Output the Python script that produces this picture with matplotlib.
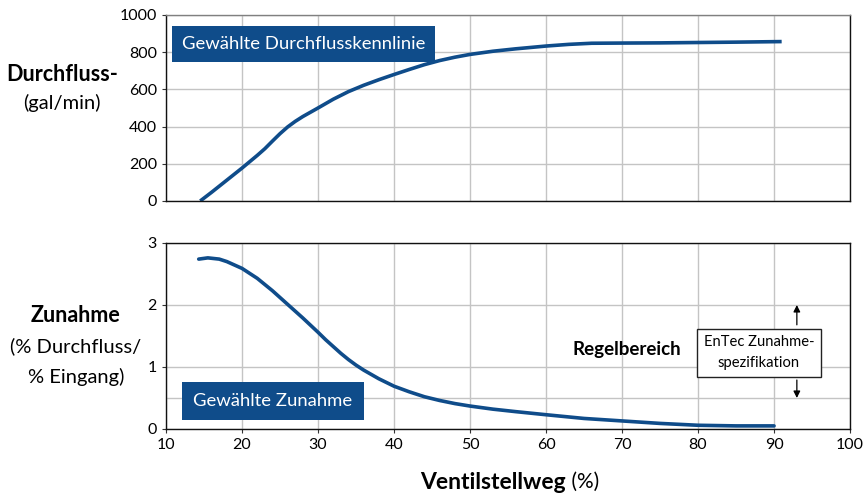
import matplotlib
matplotlib.use('Agg')
import matplotlib.pyplot as plt

plt.rcParams['font.family'] = ['Lato', 'DejaVu Sans']

# Daten
hub_fluss = [14.5, 16, 18, 20, 22, 23, 24, 25, 26, 27, 28, 30, 32, 34, 36, 38, 40, 42, 44, 46, 48, 50,
             53, 56, 60, 63, 66, 70, 75, 80, 85, 91]
durchfluss = [0, 47, 112, 177, 245, 281, 322, 362, 398, 428, 454, 500, 547, 588, 622, 652, 680, 707,
              733, 755, 773, 788, 805, 818, 833, 842, 848, 849, 850, 852, 854, 857]

hub_zunahme = [14.3, 15.5, 17, 18, 20, 22, 24, 26, 28, 30, 31, 32, 33, 34, 35, 36, 37, 38, 39, 40,
               42, 44, 46, 48, 50, 53, 56, 60, 65, 70, 75, 80, 85, 90]
zunahme = [2.74, 2.76, 2.74, 2.70, 2.59, 2.43, 2.23, 2.01, 1.79, 1.56, 1.44, 1.33, 1.22, 1.12, 1.03,
           0.95, 0.88, 0.81, 0.75, 0.69, 0.60, 0.52, 0.46, 0.41, 0.37, 0.32, 0.28, 0.23, 0.17, 0.13,
           0.09, 0.06, 0.05, 0.05]

x_ticks = [10, 20, 30, 40, 50, 60, 70, 80, 90, 100]
y1_ticks = [0, 200, 400, 600, 800, 1000]
y2_ticks = [0, 1, 2, 3]

blau = '#0f4c8a'
gitter = '#c4c4c4'

fig = plt.figure(figsize=(8.63, 4.96), dpi=100)
ax1 = fig.add_axes([0.1924, 0.5948, 0.7926, 0.375])
ax2 = fig.add_axes([0.1924, 0.1351, 0.7926, 0.375])

for ax in (ax1, ax2):
    ax.set_xlim(10, 100)
    ax.set_xticks(x_ticks)
    ax.grid(True, color=gitter, lw=1.0)
    ax.set_axisbelow(True)
    ax.tick_params(labelsize=11.5, length=3, width=0.8, color='#333333')
    for s in ax.spines.values():
        s.set_color('#111111')
        s.set_linewidth(1.0)

# oben: Durchflusskennlinie
ax1.plot(hub_fluss, durchfluss, color=blau, lw=2.6, solid_capstyle='butt', solid_joinstyle='round')
ax1.set_ylim(0, 1000)
ax1.set_yticks(y1_ticks)
ax1.tick_params(axis='x', labelbottom=False, length=0)
ax1.spines['top'].set_color('#808080')
ax1.text(0.023, 0.845, 'Gewählte Durchflusskennlinie', transform=ax1.transAxes, color='white',
         fontsize=13.3, va='center', ha='left',
         bbox=dict(boxstyle='square,pad=0.55', fc=blau, ec='none'))

# unten: Zunahme
ax2.plot(hub_zunahme, zunahme, color=blau, lw=2.6, solid_capstyle='round', solid_joinstyle='round')
ax2.set_ylim(0, 3)
ax2.set_yticks(y2_ticks)
ax2.axhline(0.5, color=gitter, lw=1.0, zorder=0)
ax2.text(0.04, 0.15, 'Gewählte Zunahme', transform=ax2.transAxes, color='white',
         fontsize=13.3, va='center', ha='left',
         bbox=dict(boxstyle='square,pad=0.6', fc=blau, ec='none'))
ax2.text(70.6, 1.28, 'Regelbereich', fontsize=13.5, fontweight='bold', ha='center', va='center')
ax2.text(88.0, 1.23, 'EnTec Zunahme-\nspezifikation', fontsize=10.6, ha='center', va='center',
         linespacing=1.65,
         bbox=dict(boxstyle='square,pad=0.45', fc='white', ec='#222222', lw=1.0))
ax2.annotate('', xy=(93.0, 2.0), xytext=(93.0, 1.68),
             arrowprops=dict(arrowstyle='-|>', color='black', lw=0.9, mutation_scale=10,
                             shrinkA=0, shrinkB=0))
ax2.annotate('', xy=(93.0, 0.5), xytext=(93.0, 0.79),
             arrowprops=dict(arrowstyle='-|>', color='black', lw=0.9, mutation_scale=10,
                             shrinkA=0, shrinkB=0))

# Achsentitel
fig.text(0.072, 0.849, 'Durchfluss-', fontsize=15.5, fontweight='bold', ha='center', va='center')
fig.text(0.072, 0.792, '(gal/min)', fontsize=14.5, ha='center', va='center')
fig.text(0.087, 0.363, 'Zunahme', fontsize=15.5, fontweight='bold', ha='center', va='center')
fig.text(0.088, 0.302, '(% Durchfluss/', fontsize=14.5, ha='center', va='center')
fig.text(0.088, 0.240, '% Eingang)', fontsize=14.5, ha='center', va='center')

fig.text(0.656, 0.028, 'Ventilstellweg', fontsize=16.5, fontweight='bold', ha='right', va='center')
fig.text(0.656, 0.028, ' (%)', fontsize=15, ha='left', va='center')

fig.savefig('out.png', dpi=100)
